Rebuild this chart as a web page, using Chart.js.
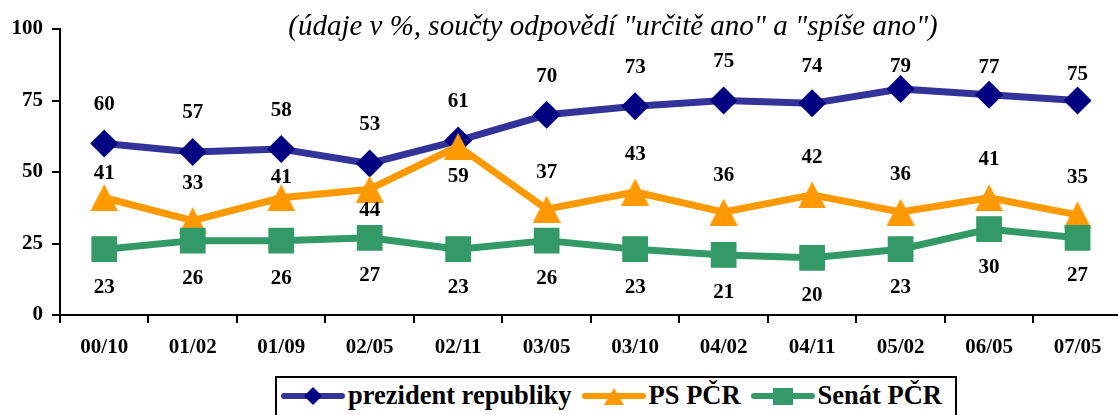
<!DOCTYPE html>
<html><head><meta charset="utf-8">
<script src="https://cdn.jsdelivr.net/npm/chart.js@4.4.1/dist/chart.umd.min.js"></script>
<style>
html,body{margin:0;padding:0;background:#fff;overflow:hidden;width:1118px;height:415px}
#wrap{position:relative;width:1140px;height:415px}
#title{position:absolute;left:0;width:1226px;top:11px;text-align:center;font-family:'Liberation Serif',Tinos,'Times New Roman',Times,serif;font-style:italic;font-size:29px;line-height:29px;white-space:nowrap;color:#000}
#legend{position:absolute;left:275px;top:376px;width:682px;height:50px;box-sizing:border-box;border:2px solid #000;background:#fff;padding:1px 0 0 4px}
#legend .row{display:flex;align-items:center;height:33px}
#legend .item{display:flex;align-items:center;margin-right:10px}
#legend canvas{display:block;margin-right:3px}
#legend span{font-family:'Liberation Serif',Tinos,'Times New Roman',Times,serif;font-weight:bold;font-size:26.5px;line-height:33px;color:#000;white-space:nowrap}
</style>
</head><body>
<div id="wrap">
<canvas id="c" width="1140" height="415"></canvas>
<div id="title">(údaje v %, součty odpovědí "určitě ano" a "spíše ano")</div>
<div id="legend"><div class="row" id="legrow"></div></div>
</div>
<script>
const categories = ['00/10','01/02','01/09','02/05','02/11','03/05','03/10','04/02','04/11','05/02','06/05','07/05'];
const prezident = [60,57,58,53,61,70,73,75,74,79,77,75];
const psPCR = [41,33,41,44,59,37,43,36,42,36,41,35];
const senatPCR = [23,26,26,27,23,26,23,21,20,23,30,27];
const yTicks = [0,25,50,75,100];
const seriesNames = ['prezident republiky','PS PČR','Senát PČR'];

// label placement (styling, relative to the point)
const prezLabelDy = [-39,-39,-39,-39,-38.5,-38.5,-38.5,-38.5,-37,-22,-27,-26];
const psLabelDy = [-24,-37,-20,21,30,-37,-37,-36,-37,-37,-38,-37];
const senLabelDy = [38,38,38,38,38,38,38,38,38,38,38,38];

const NAVY_LINE = '#333399', NAVY_MARK = '#000080', ORANGE = '#FF9900', GREEN = '#339966';
const FONT = "'Liberation Serif'";

function triCanvas(w, h, color) {
  const c = document.createElement('canvas'); c.width = w; c.height = h;
  const g = c.getContext('2d'); g.fillStyle = color;
  g.beginPath(); g.moveTo(w / 2, 0); g.lineTo(w, h); g.lineTo(0, h); g.closePath(); g.fill();
  return c;
}
const triangle = triCanvas(28, 27, ORANGE);

const labelPlugin = {
  id: 'valueLabels',
  afterDatasetsDraw(chart) {
    const ctx = chart.ctx;
    ctx.save();
    ctx.font = "bold 21px 'Liberation Serif'";
    ctx.fillStyle = '#000';
    ctx.textAlign = 'center';
    ctx.textBaseline = 'middle';
    chart.data.datasets.forEach((ds, i) => {
      const meta = chart.getDatasetMeta(i);
      meta.data.forEach((pt, j) => {
        ctx.fillText(String(ds.data[j]), pt.x, pt.y + ds.labelDy[j]);
      });
    });
    ctx.restore();
  }
};

Chart.defaults.font.family = FONT;
const tickFont = {family: FONT, size: 21, weight: 'bold'};

const chart = new Chart(document.getElementById('c'), {
  type: 'line',
  data: {
    labels: categories,
    datasets: [
      {label: seriesNames[0], data: prezident, labelDy: prezLabelDy, order: 2,
       borderColor: NAVY_LINE, borderWidth: 7, pointStyle: 'rectRot', pointRadius: 14,
       pointBackgroundColor: NAVY_MARK, pointBorderWidth: 0, pointBorderColor: NAVY_MARK},
      {label: seriesNames[1], data: psPCR, labelDy: psLabelDy, order: 1,
       borderColor: ORANGE, borderWidth: 7, pointStyle: triangle, pointRadius: 14,
       pointBackgroundColor: ORANGE, pointBorderWidth: 0},
      {label: seriesNames[2], data: senatPCR, labelDy: senLabelDy, order: 0,
       borderColor: GREEN, borderWidth: 7, pointStyle: 'rect', pointRadius: 18.2,
       pointBackgroundColor: GREEN, pointBorderWidth: 0}
    ]
  },
  options: {
    responsive: false, animation: false, devicePixelRatio: 1,
    elements: {line: {tension: 0, borderJoinStyle: 'round', borderCapStyle: 'round', fill: false}},
    layout: {padding: {top: 29, right: 13, left: 0, bottom: 0}},
    plugins: {legend: {display: false}, title: {display: false}, tooltip: {enabled: false}},
    events: [],
    scales: {
      x: {
        type: 'category', offset: true,
        grid: {offset: true, drawOnChartArea: false, drawTicks: true, tickLength: 8, color: '#000', lineWidth: 2},
        border: {color: '#000', width: 2},
        ticks: {font: tickFont, color: '#000', padding: 12, maxRotation: 0, autoSkip: false},
        afterFit(s) { s.height = 100; }
      },
      y: {
        min: 0, max: 100,
        grid: {drawOnChartArea: false, drawTicks: true, tickLength: 8, color: '#000', lineWidth: 2},
        border: {color: '#000', width: 2},
        ticks: {font: tickFont, color: '#000', padding: 9},
        afterBuildTicks(s) { s.ticks = yTicks.map(v => ({value: v})); },
        afterFit(s) { s.width = 60; }
      }
    }
  },
  plugins: [labelPlugin]
});
if (document.fonts && document.fonts.ready) document.fonts.ready.then(() => chart.update('none'));

// legend (HTML)
const legendStyles = [
  {line: NAVY_LINE, mark: NAVY_MARK, shape: 'diamond'},
  {line: ORANGE, mark: ORANGE, shape: 'triangle'},
  {line: GREEN, mark: GREEN, shape: 'square'}
];
const row = document.getElementById('legrow');
seriesNames.forEach((name, i) => {
  const st = legendStyles[i];
  const item = document.createElement('div'); item.className = 'item';
  const cv = document.createElement('canvas'); cv.width = 64; cv.height = 24;
  const g = cv.getContext('2d');
  g.strokeStyle = st.line; g.lineWidth = 6; g.lineCap = 'round';
  g.beginPath(); g.moveTo(3, 12); g.lineTo(61, 12); g.stroke();
  g.fillStyle = st.mark; g.beginPath();
  if (st.shape === 'diamond') { g.moveTo(32, 3); g.lineTo(41, 12); g.lineTo(32, 21); g.lineTo(23, 12); }
  else if (st.shape === 'triangle') { g.moveTo(32, 4); g.lineTo(42, 21); g.lineTo(22, 21); }
  else { g.rect(22, 4, 20, 17); }
  g.closePath(); g.fill();
  const sp = document.createElement('span'); sp.textContent = name;
  item.appendChild(cv); item.appendChild(sp); row.appendChild(item);
});
</script>
</body></html>
